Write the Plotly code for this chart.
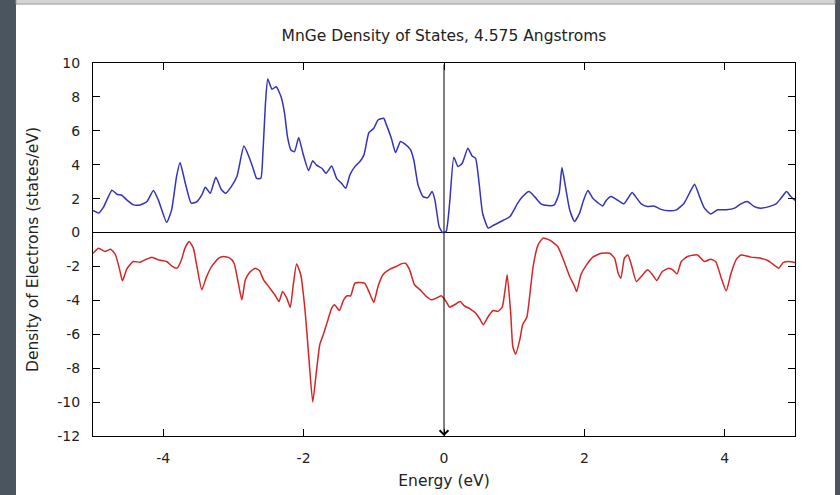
import plotly.graph_objects as go

# ---------------- data ----------------
E_up = [-5.0, -4.92, -4.85, -4.73, -4.66, -4.59, -4.52, -4.42, -4.33, -4.23,
        -4.14, -4.07, -3.95, -3.88, -3.81, -3.76, -3.69, -3.60, -3.52, -3.45,
        -3.40, -3.33, -3.25, -3.17, -3.11, -3.03, -2.95, -2.85, -2.77, -2.72,
        -2.67, -2.61, -2.58, -2.54, -2.51, -2.45, -2.39, -2.32, -2.27, -2.23,
        -2.18, -2.13, -2.07, -2.01, -1.93, -1.87, -1.82, -1.74, -1.68, -1.60,
        -1.53, -1.46, -1.40, -1.34, -1.27, -1.20, -1.14, -1.07, -1.00, -0.94,
        -0.86, -0.82, -0.75, -0.69, -0.62, -0.56, -0.48, -0.43, -0.37, -0.30,
        -0.23, -0.17, -0.13, -0.07, -0.02, 0.03, 0.08, 0.14, 0.20, 0.26,
        0.34, 0.40, 0.45, 0.50, 0.55, 0.63, 0.72, 0.84, 0.94, 1.05,
        1.12, 1.21, 1.29, 1.38, 1.48, 1.57, 1.64, 1.68, 1.73, 1.79,
        1.86, 1.93, 1.99, 2.05, 2.12, 2.19, 2.26, 2.31, 2.38, 2.45,
        2.56, 2.62, 2.68, 2.73, 2.81, 2.90, 2.99, 3.08, 3.21, 3.31,
        3.42, 3.52, 3.57, 3.64, 3.71, 3.80, 3.90, 4.02, 4.14, 4.23,
        4.32, 4.42, 4.51, 4.63, 4.73, 4.80, 4.88, 4.94, 5.0]
dos_up = [1.3, 1.15, 1.5, 2.5, 2.26, 2.2, 1.93, 1.63, 1.63, 1.83,
          2.48, 1.93, 0.6, 1.34, 3.3, 4.13, 3.0, 1.73, 1.83, 2.22,
          2.67, 2.32, 3.26, 2.52, 2.32, 2.71, 3.3, 5.1, 4.38, 3.79,
          3.2, 3.2, 4.68, 7.82, 9.05, 8.45, 8.6, 8.0, 7.0, 5.66,
          4.87, 4.77, 5.6, 4.68, 3.66, 4.24, 3.99, 3.79, 3.5, 3.93,
          3.2, 2.91, 2.61, 3.4, 3.89, 4.18, 4.58, 5.89, 6.15, 6.64,
          6.74, 6.35, 5.56, 4.72, 5.37, 5.23, 4.91, 4.28, 2.81, 2.12,
          2.06, 2.42, 1.93, 0.36, 0.0, 0.06, 1.73, 4.44, 3.89, 4.09,
          4.97, 4.52, 4.38, 2.91, 1.14, 0.26, 0.46, 0.71, 0.95, 1.73,
          2.12, 2.42, 2.12, 1.69, 1.59, 1.63, 2.32, 3.83, 2.71, 1.34,
          0.65, 1.14, 1.93, 2.48, 2.02, 1.77, 1.57, 1.89, 2.12, 1.97,
          1.69, 2.02, 2.36, 2.12, 1.69, 1.53, 1.57, 1.38, 1.28, 1.34,
          1.73, 2.52, 2.85, 2.12, 1.44, 1.10, 1.34, 1.34, 1.44, 1.69,
          1.83, 1.53, 1.44, 1.53, 1.69, 2.02, 2.42, 2.12, 1.9]

E_dn = [-5.0, -4.92, -4.83, -4.75, -4.68, -4.62, -4.58, -4.52, -4.43, -4.33,
        -4.26, -4.16, -4.07, -3.95, -3.88, -3.80, -3.74, -3.69, -3.63, -3.57,
        -3.52, -3.45, -3.39, -3.31, -3.21, -3.14, -3.05, -2.99, -2.93, -2.88,
        -2.83, -2.77, -2.69, -2.63, -2.57, -2.48, -2.41, -2.35, -2.30, -2.24,
        -2.19, -2.15, -2.10, -2.04, -1.98, -1.93, -1.87, -1.82, -1.77, -1.72,
        -1.66, -1.60, -1.56, -1.49, -1.43, -1.38, -1.33, -1.27, -1.21, -1.13,
        -1.06, -1.00, -0.94, -0.87, -0.77, -0.68, -0.61, -0.55, -0.49, -0.42,
        -0.34, -0.25, -0.18, -0.11, -0.04, 0.03, 0.08, 0.15, 0.23, 0.29,
        0.37, 0.45, 0.51, 0.56, 0.63, 0.70, 0.77, 0.83, 0.87, 0.90,
        0.95, 0.98, 1.02, 1.08, 1.12, 1.18, 1.22, 1.27, 1.34, 1.41,
        1.50, 1.62, 1.72, 1.79, 1.86, 1.89, 1.95, 2.03, 2.12, 2.24,
        2.36, 2.43, 2.48, 2.52, 2.57, 2.62, 2.67, 2.74, 2.81, 2.90,
        2.97, 3.03, 3.11, 3.20, 3.26, 3.32, 3.38, 3.47, 3.61, 3.71,
        3.80, 3.87, 3.95, 4.02, 4.09, 4.16, 4.23, 4.37, 4.51, 4.61,
        4.68, 4.77, 4.83, 4.91, 5.0]
dos_dn = [-1.22, -0.92, -1.12, -0.98, -1.31, -2.2, -2.85, -2.16, -1.71, -1.75,
          -1.61, -1.45, -1.61, -1.71, -1.96, -2.1, -1.61, -0.92, -0.53, -0.92,
          -2.0, -3.38, -2.69, -2.0, -1.51, -1.41, -1.51, -1.81, -2.98, -3.97,
          -2.79, -2.36, -2.1, -2.24, -2.79, -3.28, -3.67, -4.07, -3.48, -3.87,
          -4.4, -3.18, -1.85, -2.49, -4.56, -7.11, -10.0, -8.29, -6.62, -6.03,
          -5.24, -4.46, -4.26, -4.6, -3.97, -3.73, -3.73, -2.98, -2.95, -2.98,
          -3.57, -4.12, -3.18, -2.49, -2.16, -2.0, -1.85, -1.81, -2.2, -3.08,
          -3.38, -3.77, -3.97, -3.87, -3.73, -4.07, -4.4, -4.26, -4.07, -4.32,
          -4.5, -4.75, -5.1, -5.44, -4.95, -4.6, -4.65, -4.4, -3.38, -2.49,
          -4.75, -6.72, -7.17, -6.32, -5.44, -4.99, -3.77, -2.0, -0.73, -0.33,
          -0.43, -0.82, -1.81, -2.59, -3.18, -3.48, -2.49, -1.91, -1.45, -1.22,
          -1.22, -1.51, -2.39, -2.69, -1.51, -1.32, -1.91, -2.89, -2.59, -2.2,
          -2.49, -2.83, -2.3, -2.1, -2.2, -2.44, -1.71, -1.41, -1.32, -1.71,
          -1.57, -1.71, -2.69, -3.44, -2.39, -1.61, -1.32, -1.45, -1.51, -1.65,
          -1.85, -2.1, -1.77, -1.71, -1.77]

x_range = [-5, 5]
y_range = [-12, 10]
x_tickvals = [-4, -2, 0, 2, 4]
x_ticktext = ["-4", "-2", "0", "2", "4"]
y_tickvals = [-12, -10, -8, -6, -4, -2, 0, 2, 4, 6, 8, 10]
y_ticktext = ["-12", "-10", "-8", "-6", "-4", "-2", "0", "2", "4", "6", "8", "10"]

title_text = "MnGe Density of States, 4.575 Angstroms"
x_title = "Energy (eV)"
y_title = "Density of Electrons (states/eV)"

# ---------------- figure ----------------
FONT = "DejaVu Sans"
TXT = "#222222"
TICK_SIZE = 14
TITLE_SIZE = 15.5

fig = go.Figure()
fig.add_trace(go.Scatter(x=E_up, y=dos_up, mode="lines", showlegend=False,
                         line=dict(color="#3333bb", width=1.5, shape="spline", smoothing=0.5)))
fig.add_trace(go.Scatter(x=E_dn, y=dos_dn, mode="lines", showlegend=False,
                         line=dict(color="#d42626", width=1.5, shape="spline", smoothing=0.5)))

axis_common = dict(showline=True, linecolor="black", linewidth=1.2, mirror="ticks",
                   ticks="inside", ticklen=7, tickwidth=1.2, tickcolor="black",
                   showgrid=False, automargin=False,
                   tickfont=dict(family=FONT, size=TICK_SIZE, color=TXT))

fig.update_xaxes(range=x_range, tickvals=x_tickvals, ticktext=x_ticktext,
                 zeroline=False, ticklabelstandoff=9,
                 title=dict(text=x_title, font=dict(family=FONT, size=TITLE_SIZE, color=TXT), standoff=10),
                 **axis_common)
fig.update_yaxes(range=y_range, tickvals=y_tickvals, ticktext=y_ticktext,
                 zeroline=True, zerolinecolor="black", zerolinewidth=1.2, ticklabelstandoff=9,
                 title=dict(text=y_title, font=dict(family=FONT, size=TITLE_SIZE, color=TXT), standoff=14),
                 **axis_common)

# vertical line at E=0 with arrowhead at the bottom
fig.add_annotation(x=0, y=y_range[0], ax=0, ay=y_range[1], xref="x", yref="y",
                   axref="x", ayref="y", text="", showarrow=True, arrowhead=4,
                   arrowsize=1.7, arrowwidth=1, arrowcolor="black")

# window frame decoration (dark strip left/right, grey bar at top)
frame = "#4b5560"
fig.add_shape(type="rect", xref="paper", yref="paper", x0=-0.1325, x1=-0.1097, y0=-0.2, y1=1.2,
              fillcolor=frame, line_width=0, layer="below")
fig.add_shape(type="rect", xref="paper", yref="paper", x0=1.057, x1=1.07, y0=-0.2, y1=1.2,
              fillcolor=frame, line_width=0, layer="below")
fig.add_shape(type="rect", xref="paper", yref="paper", x0=-0.1097, x1=1.057, y0=1.158, y1=1.2,
              fillcolor="#d4d4d4", line=dict(color="#9a9a9a", width=1), layer="below")

fig.update_layout(
    width=840, height=495,
    margin=dict(l=93, r=45, t=63, b=59, autoexpand=False),
    paper_bgcolor="white", plot_bgcolor="white",
    font=dict(family=FONT, size=TICK_SIZE, color=TXT),
    title=dict(text=title_text, x=0.5, xref="paper", xanchor="center",
               y=1 - 36 / 495, yref="container", yanchor="middle",
               font=dict(family=FONT, size=TITLE_SIZE, color=TXT)),
)

fig.write_html("out.html")
